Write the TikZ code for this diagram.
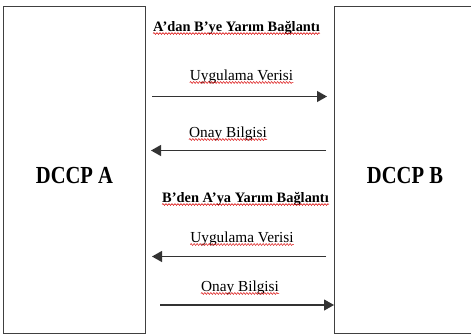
\documentclass[tikz,border=0pt]{standalone}
\usepackage{fontspec}
\setmainfont{Liberation Serif}
\newfontfamily\cf{Liberation Serif}[FakeStretch=0.84]
\usetikzlibrary{arrows.meta,decorations.pathmorphing}
\begin{document}
\begin{tikzpicture}[x=1pt,y=-1pt,
  box/.style={draw=black!75,line width=0.8pt},
  lbl/.style={inner sep=0pt,anchor=base,font=\fontsize{15.3}{17}\selectfont},
  ttl/.style={inner sep=0pt,anchor=base,font=\bfseries\fontsize{14.4}{16}\selectfont},
  big/.style={inner sep=0pt,anchor=base,font=\cf\bfseries\fontsize{24.5}{26}\selectfont},
  msg/.style={line width=1.1pt,draw=black!80,-{Triangle[length=10pt,width=11pt]}},
  wavy/.style={draw=red!85!black,line width=0.5pt,decorate,decoration={snake,amplitude=0.9pt,segment length=3pt}}]
\useasboundingbox (0,0) rectangle (471,335);
\fill[white] (0,0) rectangle (471,335);
% boxes
\draw[box] (3,6) rectangle (145,333);
\draw[box] (334,6) -- (475,6) (334,6) -- (334,333) -- (475,333);
\node[big] (A) at (74.5,183) {DCCP A};
\node[big] (B) at (405,183) {DCCP B};
% texts
\node[ttl] (t1) at (236.5,31) {A’dan B’ye Yarım Bağlantı};
\node[lbl] (u1) at (241.5,80) {Uygulama Verisi};
\node[lbl] (o1) at (228,137) {Onay Bilgisi};
\node[ttl] (t2) at (245.5,202) {B’den A’ya Yarım Bağlantı};
\node[lbl] (u2) at (242,242) {Uygulama Verisi};
\node[lbl] (o2) at (240,291) {Onay Bilgisi};
% wavy underlines
\foreach \n in {t1,u1,o1,t2,u2,o2}{
  \draw[wavy] ([yshift=-2.5pt]\n.base west) -- ([yshift=-2.5pt]\n.base east);
}
% arrows
\coordinate (a1s) at (152,96.5); \coordinate (a1e) at (327,96.5);
\coordinate (a2s) at (326,150.5); \coordinate (a2e) at (151,150.5);
\coordinate (a3s) at (326,256.5); \coordinate (a3e) at (152,256.5);
\coordinate (a4s) at (160,305); \coordinate (a4e) at (334,305);
\draw[msg] (a1s) -- (a1e);
\draw[msg] (a2s) -- (a2e);
\draw[msg] (a3s) -- (a3e);
\draw[msg] (a4s) -- (a4e);
\end{tikzpicture}
\end{document}
